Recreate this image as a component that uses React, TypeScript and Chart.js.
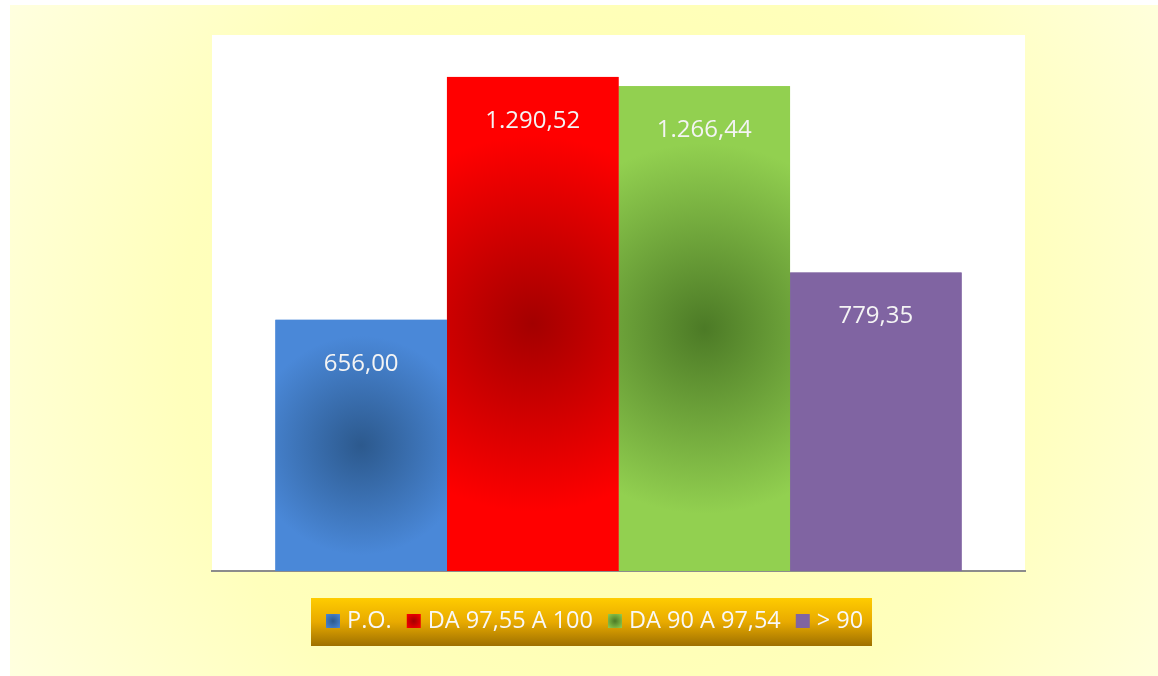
import React, { useEffect, useRef } from 'react';
import { Chart, registerables } from 'chart.js';

Chart.register(...registerables);

// ---- data ----
const categories = [''];
const seriesLabels = ['P.O.', 'DA 97,55 A 100', 'DA 90 A 97,54', '> 90'];
const seriesValues = [656.0, 1290.52, 1266.44, 779.35];
const yMin = 0;
const yMax = 1400;

// ---- styles ----
const FILLS = [
  { edge: '#4A88D8', center: '#2C598D' },
  { edge: '#FF0000', center: '#A30000' },
  { edge: '#92D050', center: '#4C7A26' },
  { edge: '#8064A2', center: '#8064A2' },
];
const FONT = '"Open Sans", "Noto Sans", sans-serif';

function formatIt(v: number): string {
  const [int, dec] = v.toFixed(2).split('.');
  const withDots = int.replace(/\B(?=(\d{3})+(?!\d))/g, '.');
  return withDots + ',' + dec;
}

const bgPlugin = {
  id: 'bgPlugin',
  beforeDraw(chart: any) {
    const { ctx, width, height, chartArea } = chart;
    ctx.save();
    ctx.fillStyle = '#ffffff';
    ctx.fillRect(0, 0, width, height);
    const g = ctx.createRadialGradient(600, 340, 0, 600, 340, 700);
    g.addColorStop(0, '#FFFFAA');
    g.addColorStop(0.6, '#FFFFBC');
    g.addColorStop(1, '#FFFFE2');
    ctx.fillStyle = g;
    ctx.fillRect(10, 5, width - 10, height - 5);
    ctx.fillStyle = '#ffffff';
    ctx.fillRect(chartArea.left, chartArea.top, chartArea.right - chartArea.left, chartArea.bottom - chartArea.top);
    ctx.restore();
  },
};

const barGradientPlugin = {
  id: 'barGradient',
  afterDatasetDraw(chart: any, args: any) {
    const { ctx } = chart;
    const idx = args.index;
    const fill = FILLS[idx];
    args.meta.data.forEach((el: any) => {
      const { x, y, base, width } = el.getProps(['x', 'y', 'base', 'width'], true);
      const left = x - width / 2;
      const top = Math.min(y, base);
      const h = Math.abs(base - y);
      const cx = x;
      const cy = top + h / 2;
      const R = 0.72 * Math.hypot(width / 2, h / 2);
      const g = ctx.createRadialGradient(cx, cy, 0, cx, cy, R);
      g.addColorStop(0, fill.center);
      g.addColorStop(1, fill.edge);
      ctx.save();
      ctx.fillStyle = g;
      ctx.fillRect(left, top, width, h);
      ctx.restore();
    });
  },
};

const labelPlugin = {
  id: 'valueLabels',
  afterDatasetsDraw(chart: any) {
    const { ctx } = chart;
    ctx.save();
    ctx.font = `24px ${FONT}`;
    ctx.fillStyle = '#F4F4F4';
    ctx.textAlign = 'center';
    ctx.textBaseline = 'middle';
    chart.data.datasets.forEach((ds: any, i: number) => {
      const meta = chart.getDatasetMeta(i);
      meta.data.forEach((el: any, j: number) => {
        const { x, y } = el.getProps(['x', 'y'], true);
        ctx.fillText(formatIt(ds.data[j]), x, y + 44);
      });
    });
    ctx.restore();
  },
};

const legendPlugin = {
  id: 'customLegend',
  afterDraw(chart: any) {
    const { ctx } = chart;
    const boxL = 311, boxT = 598, boxW = 561, boxH = 48;
    ctx.save();
    const g = ctx.createLinearGradient(0, boxT, 0, boxT + boxH);
    g.addColorStop(0, '#FFCC00');
    g.addColorStop(0.5, '#E8AA00');
    g.addColorStop(1, '#9E7000');
    ctx.fillStyle = g;
    ctx.fillRect(boxL, boxT, boxW, boxH);

    ctx.font = `23.5px ${FONT}`;
    ctx.textBaseline = 'middle';
    ctx.textAlign = 'left';
    const cy = boxT + boxH / 2 - 1;
    let xPos = boxL + 15;
    const sq = 14;
    chart.data.datasets.forEach((ds: any, i: number) => {
      const fill = FILLS[i];
      const sg = ctx.createRadialGradient(xPos + sq / 2, cy, 0, xPos + sq / 2, cy, sq * 0.7);
      sg.addColorStop(0, fill.center);
      sg.addColorStop(1, fill.edge);
      ctx.fillStyle = sg;
      ctx.fillRect(xPos, cy - sq / 2, sq, sq);
      xPos += sq + 7;
      ctx.fillStyle = '#F8F8F8';
      ctx.fillText(ds.label, xPos, cy);
      xPos += ctx.measureText(ds.label).width + 15;
    });
    ctx.restore();
  },
};

export default function App() {
  const canvasRef = useRef<HTMLCanvasElement | null>(null);

  useEffect(() => {
    const canvas = canvasRef.current;
    if (!canvas) return;
    const chart = new Chart(canvas, {
      type: 'bar',
      data: {
        labels: categories,
        datasets: seriesLabels.map((label, i) => ({
          label,
          data: [seriesValues[i]],
          backgroundColor: FILLS[i].edge,
          borderWidth: 0,
          barPercentage: 1,
          categoryPercentage: 0.844,
        })),
      },
      options: {
        responsive: false,
        animation: false,
        devicePixelRatio: 1,
        layout: { padding: { left: 212, right: 133, top: 35, bottom: 105 } },
        plugins: {
          legend: { display: false },
          tooltip: { enabled: false },
          title: { display: false },
        },
        scales: {
          x: {
            display: true,
            z: 1,
            ticks: { display: false },
            grid: { display: false, drawTicks: false },
            border: { display: true, color: '#8C8C8C', width: 2 },
          },
          y: {
            display: false,
            min: yMin,
            max: yMax,
          },
        },
      },
      plugins: [bgPlugin, barGradientPlugin, labelPlugin, legendPlugin],
    });
    return () => chart.destroy();
  }, []);

  return (
    <div style={{ position: 'absolute', left: 0, top: 0, width: 1158, height: 676 }}>
      <canvas ref={canvasRef} width={1158} height={676} style={{ width: 1158, height: 676, display: 'block' }} />
    </div>
  );
}
